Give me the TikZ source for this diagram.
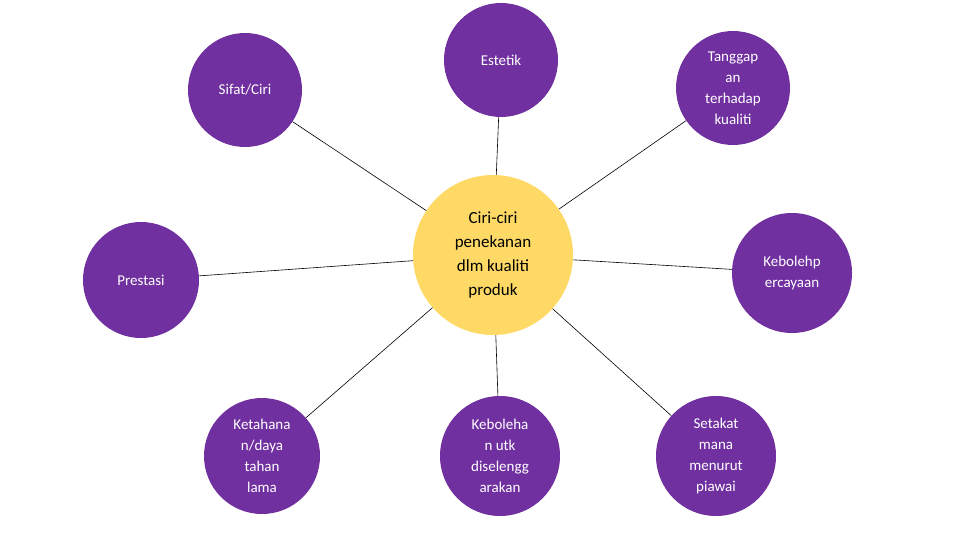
\documentclass[tikz,border=0pt]{standalone}
\usepackage{fontspec}
\setmainfont{Carlito}
\begin{document}
\begin{tikzpicture}[x=1pt,y=-1pt,
  outer/.style={circle,fill=purple1,text=white,inner sep=0pt,align=center,font=\fontsize{15}{21}\selectfont},
  hub/.style={circle,fill=yellow1,text=black,inner sep=0pt,minimum size=160pt,align=center,font=\fontsize{17}{24}\selectfont},
  link/.style={draw=black,line width=0.6pt}]
\definecolor{purple1}{HTML}{7030A0}
\definecolor{yellow1}{HTML}{FFD966}
\useasboundingbox (0,0) rectangle (960,540);
\node[hub] (c) at (493,255) {Ciri-ciri\\penekanan\\dlm kualiti\\produk};
\node[outer,minimum size=114pt] (est) at (501,60) {Estetik};
\node[outer,minimum size=114pt] (sif) at (245,90) {Sifat/Ciri};
\node[outer,minimum size=114pt] (tan) at (733,88) {Tanggap\\an\\terhadap\\kualiti};
\node[outer,minimum size=116pt] (pre) at (141,280) {Prestasi};
\node[outer,minimum size=120pt] (keb) at (792,273) {Kebolehp\\ercayaan};
\node[outer,minimum size=116pt] (ket) at (262,456) {Ketahana\\n/daya\\tahan\\lama};
\node[outer,minimum size=120pt] (kel) at (500,456) {Keboleha\\n utk\\diselengg\\arakan};
\node[outer,minimum size=120pt] (set) at (716,456) {Setakat\\mana\\menurut\\piawai};
\foreach \n in {est,sif,tan,pre,keb,ket,kel,set} \draw[link] (c) -- (\n);
\end{tikzpicture}
\end{document}
